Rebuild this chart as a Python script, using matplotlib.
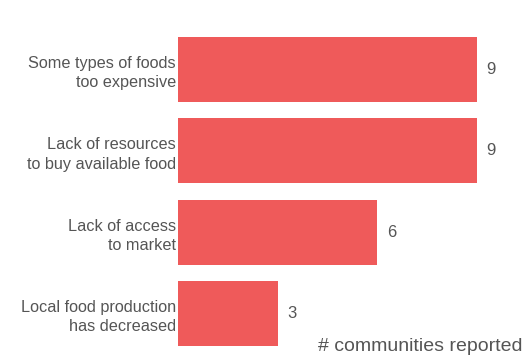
import matplotlib.pyplot as plt

plt.rcParams["font.family"] = ["Liberation Sans", "DejaVu Sans"]

categories = [
    "Some types of foods\ntoo expensive",
    "Lack of resources\nto buy available food",
    "Lack of access\nto market",
    "Local food production\nhas decreased",
]
counts = [9, 9, 6, 3]

W, H = 526, 355
fig = plt.figure(figsize=(W / 100, H / 100), dpi=100)
ax = fig.add_axes([178 / W, 0, 1 - 178 / W, 1])

pos = list(range(len(categories)))
ax.barh(pos, counts, height=0.8, color="#ef5a5a", edgecolor="none")

# pixel-based limits: 33.2 px per unit on x, 81 px per bar row on y
ax.set_xlim(0, (W - 178) / 33.2)
ax.set_ylim(3 + (H - 313.5) / 81, -69.5 / 81)

for p, v in zip(pos, counts):
    ax.annotate(str(v), (v, p), xytext=(7, 0), textcoords="offset points",
                va="center", ha="left", fontsize=12, color="#555555")

ax.set_yticks(pos)
ax.set_yticklabels(categories, fontsize=11.7, color="#555555", linespacing=1.35)
ax.tick_params(axis="y", length=0, pad=1.5)
ax.set_xticks([])
for s in ax.spines.values():
    s.set_visible(False)

fig.text(523 / W, (H - 351) / H, "# communities reported", ha="right",
         va="baseline", fontsize=14, color="#555555")

fig.savefig("out.png", dpi=100)
